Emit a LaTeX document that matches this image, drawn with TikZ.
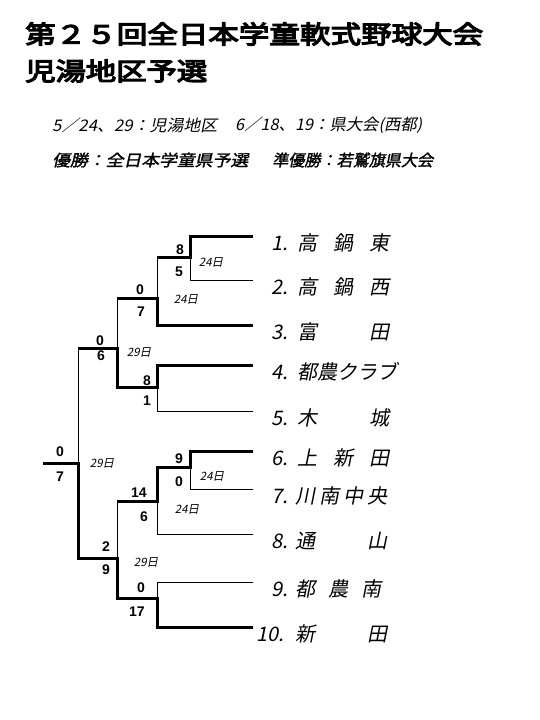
\documentclass[tikz,border=0pt]{standalone}
\usepackage{fontspec}
\usepackage{graphicx}
\setmainfont{Liberation Sans}
\newfontfamily\jpit[FakeSlant=0.2]{Noto Sans CJK JP}
\newfontfamily\jpbf[FakeBold=4.5]{Noto Sans CJK JP}
\newfontfamily\jpbfit[FakeBold=1.5,FakeSlant=0.2]{Noto Sans CJK JP}
\newsavebox\fitbox
\newcommand\widebox[2]{\sbox\fitbox{#2}\pgfmathsetmacro\boxsx{#1/\the\wd\fitbox}\scalebox{\boxsx}[1]{\usebox\fitbox}}
\newcommand\spread[1]{\makebox[92pt][s]{#1}}

\begin{document}
\begin{tikzpicture}[x=1pt,y=-1pt,
    thin line/.style={line width=0.9pt},
    win line/.style={line width=3pt},
    score/.style={inner sep=0pt,font=\bfseries\fontsize{14}{14}\selectfont},
    date/.style={inner sep=0pt,font=\jpit\fontsize{11.5}{11.5}\selectfont},
    team/.style={inner sep=0pt,anchor=base west,font=\jpit\fontsize{20}{20}\selectfont},
    seed/.style={inner sep=0pt,anchor=base east,font=\jpit\fontsize{20}{20}\selectfont}]
  \useasboundingbox[fill=white] (0,0) rectangle (540,720);
  % heading
  \node[inner sep=0pt,anchor=west] (title1) at (25,34)
    {\widebox{458}{\jpbf\fontsize{25}{25}\selectfont 第２５回全日本学童軟式野球大会}};
  \node[inner sep=0pt,anchor=west] (title2) at (25,71)
    {\widebox{182}{\jpbf\fontsize{25}{25}\selectfont 児湯地区予選}};
  \node[inner sep=0pt,anchor=west] (sub1a) at (52,125)
    {\widebox{165}{\jpit\fontsize{16}{16}\selectfont 5／24、29：児湯地区}};
  \node[inner sep=0pt,anchor=west] (sub1b) at (235,125)
    {\widebox{187}{\jpit\fontsize{16}{16}\selectfont 6／18、19：県大会(西都)}};
  \node[inner sep=0pt,anchor=west] (sub2a) at (52,160)
    {\widebox{196}{\jpbfit\fontsize{16}{16}\selectfont 優勝：全日本学童県予選}};
  \node[inner sep=0pt,anchor=west] (sub2b) at (272,160)
    {\widebox{161}{\jpbfit\fontsize{16}{16}\selectfont 準優勝：若鷲旗県大会}};

  % team ends and match points
  \coordinate (t1) at (253,236);
  \coordinate (t2) at (253,280);
  \coordinate (t3) at (253,325);
  \coordinate (t4) at (253,365);
  \coordinate (t5) at (253,411);
  \coordinate (t6) at (253,451);
  \coordinate (t7) at (253,489);
  \coordinate (t8) at (253,534);
  \coordinate (t9) at (253,582);
  \coordinate (t10) at (253,627);
  \coordinate (m12) at (190,257);
  \coordinate (m123) at (157,298);
  \coordinate (m45) at (157,387);
  \coordinate (msf1) at (117,348);
  \coordinate (m67) at (190,467);
  \coordinate (m678) at (157,501);
  \coordinate (m910) at (157,598);
  \coordinate (msf2) at (117,558);
  \coordinate (mfin) at (78,463);
  \coordinate (champ) at (43,463);

  % upper half
  \draw[win line] (t1) -- (t1 -| m12) -- (m12) -- (m12 -| m123);
  \draw[thin line] (t2) -- (t2 -| m12) -- (m12);
  \draw[thin line] (m12 -| m123) -- (m123);
  \draw[win line] (t3) -- (t3 -| m123) -- (m123) -- (m123 -| msf1);
  \draw[thin line] (m123 -| msf1) -- (msf1);
  \draw[win line] (t4) -- (t4 -| m45) -- (m45) -- (m45 -| msf1) -- (msf1) -- (msf1 -| mfin);
  \draw[thin line] (t5) -- (t5 -| m45) -- (m45);
  \draw[thin line] (msf1 -| mfin) -- (mfin);
  % lower half
  \draw[win line] (t6) -- (t6 -| m67) -- (m67) -- (m67 -| m678) -- (m678) -- (m678 -| msf2);
  \draw[thin line] (t7) -- (t7 -| m67) -- (m67);
  \draw[thin line] (t8) -- (t8 -| m678) -- (m678);
  \draw[thin line] (m678 -| msf2) -- (msf2);
  \draw[thin line] (t9) -- (t9 -| m910) -- (m910);
  \draw[win line] (t10) -- (t10 -| m910) -- (m910) -- (m910 -| msf2) -- (msf2) -- (msf2 -| mfin) -- (mfin) -- (champ);

  % scores
  \node[score] (s12a) at (180,250) {8};
  \node[score] (s12b) at (179,272) {5};
  \node[score] (s123a) at (140,290) {0};
  \node[score] (s123b) at (141,312) {7};
  \node[score] (s45a) at (147,381) {8};
  \node[score] (s45b) at (147,401) {1};
  \node[score] (ssf1a) at (100,341) {0};
  \node[score] (ssf1b) at (101,356) {6};
  \node[score] (sfina) at (60,452) {0};
  \node[score] (sfinb) at (60,477) {7};
  \node[score] (s67a) at (179,459) {9};
  \node[score] (s67b) at (179,482) {0};
  \node[score] (s678a) at (139,493) {14};
  \node[score] (s678b) at (144,517) {6};
  \node[score] (s910a) at (141,588) {0};
  \node[score] (s910b) at (137,612) {17};
  \node[score] (ssf2a) at (106,547) {2};
  \node[score] (ssf2b) at (106,570) {9};

  % dates
  \node[date] (d12) at (211,262) {24日};
  \node[date] (d123) at (186,299) {24日};
  \node[date] (dsf1) at (139,352) {29日};
  \node[date] (dfin) at (102,463) {29日};
  \node[date] (d67) at (212,476) {24日};
  \node[date] (d678) at (187,509) {24日};
  \node[date] (dsf2) at (146,562) {29日};

  % teams
  \node[seed] (n1) at (288,250) {1.};
  \node[team] (team1) at (297,250) {\spread{高\hfill 鍋\hfill 東}};
  \node[seed] (n2) at (288,294) {2.};
  \node[team] (team2) at (297,294) {\spread{高\hfill 鍋\hfill 西}};
  \node[seed] (n3) at (288,339) {3.};
  \node[team] (team3) at (297,339) {\spread{富\hfill 田}};
  \node[seed] (n4) at (288,379) {4.};
  \node[team] (team4) at (297,379) {都農クラブ};
  \node[seed] (n5) at (288,425) {5.};
  \node[team] (team5) at (297,425) {\spread{木\hfill 城}};
  \node[seed] (n6) at (288,465) {6.};
  \node[team] (team6) at (297,465) {\spread{上\hfill 新\hfill 田}};
  \node[seed] (n7) at (288,503) {7.};
  \node[team] (team7) at (295,503) {\spread{川\hfill 南\hfill 中\hfill 央}};
  \node[seed] (n8) at (288,548) {8.};
  \node[team] (team8) at (295,548) {\spread{通\hfill 山}};
  \node[seed] (n9) at (288,596) {9.};
  \node[team] (team9) at (295,596) {\makebox[86pt][s]{都\hfill 農\hfill 南}};
  \node[seed] (n10) at (284,641) {10.};
  \node[team] (team10) at (295,641) {\spread{新\hfill 田}};
\end{tikzpicture}
\end{document}
